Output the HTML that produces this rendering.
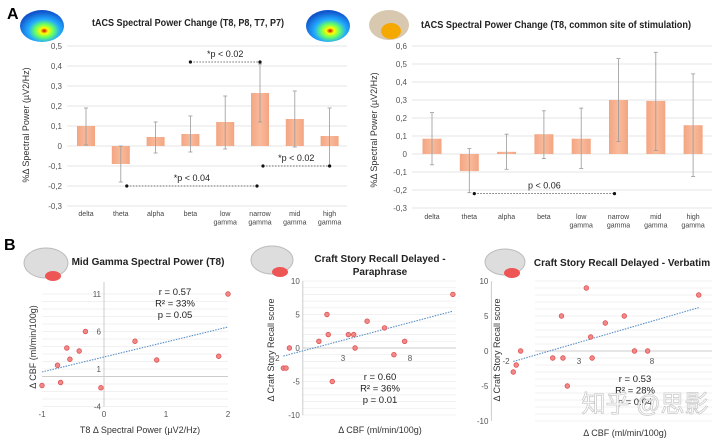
<!DOCTYPE html>
<html><head><meta charset="utf-8">
<style>
body{margin:0;background:#fff;font-family:"Liberation Sans",Arial,sans-serif;}
svg text{font-family:"Liberation Sans",Arial,sans-serif;}
</style></head>
<body>
<svg id="fig" width="720" height="441" viewBox="0 0 720 441" xmlns="http://www.w3.org/2000/svg">
<defs>
<radialGradient id="heat" cx="0.55" cy="0.65" r="0.6">
<stop offset="0" stop-color="#c00"/><stop offset="0.15" stop-color="#ff0"/><stop offset="0.35" stop-color="#6f6"/><stop offset="0.6" stop-color="#2af"/><stop offset="1" stop-color="#15c"/>
</radialGradient>
<linearGradient id="barg" x1="0" x2="1"><stop offset="0" stop-color="#f4a582"/><stop offset="0.5" stop-color="#f8bb9c"/><stop offset="1" stop-color="#f4a582"/></linearGradient>
</defs>
<text x="7" y="19" font-size="16" font-weight="bold">A</text>
<text x="4" y="250" font-size="16" font-weight="bold">B</text>
<g><ellipse cx="42" cy="26" rx="22" ry="16" fill="url(#heat)"/></g>
<g><ellipse cx="328" cy="26" rx="22" ry="16" fill="url(#heat)"/></g>
<g><ellipse cx="389" cy="25" rx="20" ry="15" fill="#d9c8b0"/><ellipse cx="391" cy="31" rx="10" ry="8" fill="#f5a800"/></g>
<g><ellipse cx="46" cy="263" rx="22" ry="15" fill="#ddd" stroke="#bbb"/><ellipse cx="53" cy="276" rx="8" ry="5" fill="#e55"/></g>
<g><ellipse cx="272" cy="260" rx="21" ry="14" fill="#ddd" stroke="#bbb"/><ellipse cx="280" cy="272" rx="8" ry="5" fill="#e55"/></g>
<g><ellipse cx="505" cy="262" rx="20" ry="13" fill="#ddd" stroke="#bbb"/><ellipse cx="512" cy="273" rx="8" ry="5" fill="#e55"/></g>
<g id="charts"></g>
<text x="645" y="412" font-size="24" fill="#fff" stroke="#ccc" stroke-width="0.8" text-anchor="middle" font-family="'Noto Sans CJK SC',sans-serif">知乎 @思影</text>
</svg>
<script>
const cats = ["delta","theta","alpha","beta","low|gamma","narrow|gamma","mid|gamma","high|gamma"];
const a1Vals = [0.10,-0.09,0.045,0.06,0.12,0.265,0.135,0.05];
const a1Hi = [0.19,0.0,0.12,0.15,0.25,0.41,0.275,0.19];
const a1Lo = [0.005,-0.18,-0.035,-0.03,-0.015,0.12,-0.005,-0.10];
const a1Ticks = ["0,5","0,4","0,3","0,2","0,1","0","-0,1","-0,2","-0,3"];
const a2Vals = [0.085,-0.095,0.012,0.11,0.085,0.30,0.295,0.16];
const a2Hi = [0.23,0.03,0.11,0.24,0.255,0.53,0.565,0.445];
const a2Lo = [-0.06,-0.215,-0.085,-0.025,-0.08,0.07,0.02,-0.125];
const a2Ticks = ["0,6","0,5","0,4","0,3","0,2","0,1","0","-0,1","-0,2","-0,3"];
const b1X = [2,-0.3,0.5,-0.6,-0.4,-0.55,-0.75,0.85,1.85,-1,-0.7,-0.05];
const b1Y = [11,6,4.7,3.8,3.4,2.3,1.5,2.2,2.7,-1.2,-0.8,-1.5];
const b1Trend = [[-1,0.6],[2,6.6]];
const b2X = [11.2,1.8,4.8,6.1,1.2,1.9,3.4,3.8,3.9,-1.0,7.6,6.8,-1.45,-1.25,2.2];
const b2Y = [8,5,4,3,1,2,2,2,0,0,1,-1,-3,-3,-5];
const b2Trend = [[-1.45,-1.2],[11.2,5.5]];
const b3X = [11.2,3.5,1.8,4.8,6.1,3.8,-1.0,6.8,7.7,1.2,1.9,3.9,-1.3,-1.5,2.2];
const b3Y = [8,9,5,4,5,2,0,0,0,-1,-1,-1,-2,-3,-5];
const b3Trend = [[-1.5,-1.5],[11.2,6.2]];

const NS="http://www.w3.org/2000/svg";
const root=document.getElementById('charts');
function mk(tag,attrs,parent,txt){const e=document.createElementNS(NS,tag);for(const k in attrs)e.setAttribute(k,attrs[k]);if(txt!==undefined)e.textContent=txt;(parent||root).appendChild(e);return e;}

function barChart(o){
  const g=mk('g',{});
  
  
  const y=v=>o.y0+(o.vmax-v)*o.ppu;
  o.ticks.forEach((t,i)=>{const v=o.vmax-i*0.1;const yy=y(v);
    const l=mk('line',{x1:o.gx1,x2:o.gx2,y1:yy,y2:yy,stroke:'#e6e6e6','stroke-width':1},g);
    
    const tx=mk('text',{x:o.gx1-5,y:yy+3,'font-size':8,fill:'#555','text-anchor':'end'},g,t);
    });
  const x=i=>o.cx0+i*o.step;
  o.vals.forEach((v,i)=>{
    const b=mk('rect',{x:x(i)-o.bw/2,y:Math.min(y(v),y(0)),width:o.bw,height:Math.abs(y(v)-y(0)),fill:'url(#barg)'},g);
    
    const e=mk('g',{stroke:'#999','stroke-width':0.8},g);
    
    mk('line',{x1:x(i),x2:x(i),y1:y(o.hi[i]),y2:y(o.lo[i])},e);
    mk('line',{x1:x(i)-2,x2:x(i)+2,y1:y(o.hi[i]),y2:y(o.hi[i])},e);
    mk('line',{x1:x(i)-2,x2:x(i)+2,y1:y(o.lo[i]),y2:y(o.lo[i])},e);
    const parts=cats[i].split('|');
    parts.forEach((p,j)=>{const t=mk('text',{x:x(i),y:o.labY+j*8.5,'font-size':7,fill:'#444','text-anchor':'middle'},g,p);
      });
  });
  o.sig.forEach(s=>{const yy=y(s.v);
    const d=mk('g',{},g);
    mk('line',{x1:x(s.a)+s.da,x2:x(s.b)+s.db,y1:yy,y2:yy,stroke:'#444','stroke-width':0.8,'stroke-dasharray':'1.5,1.5'},d);
    mk('circle',{cx:x(s.a)+s.da,cy:yy,r:1.6,fill:'#111'},d);mk('circle',{cx:x(s.b)+s.db,cy:yy,r:1.6,fill:'#111'},d);
    mk('text',{x:(x(s.a)+s.da+x(s.b)+s.db)/2,y:yy-5,'font-size':9,fill:'#222','text-anchor':'middle'},d,s.t);});
  const tt=mk('text',{x:o.tx,y:o.ty,'font-size':10.5,'font-weight':'bold',fill:'#222','text-anchor':o.ta,textLength:o.tl,lengthAdjust:'spacingAndGlyphs'},g,o.title);
  
  const yt=mk('text',{x:0,y:0,'font-size':9,fill:'#333','text-anchor':'middle',transform:`translate(${o.ytx},${o.yty}) rotate(-90)`},g,'%Δ Spectral Power (µV2/Hz)');
  
}

barChart({name:'bar-chart-all-electrodes',vals:a1Vals,hi:a1Hi,lo:a1Lo,ticks:a1Ticks,vmax:0.5,y0:46,ppu:200,gx1:67,gx2:347,cx0:86,step:34.8,bw:18,labY:216,
  sig:[{a:3,b:5,v:0.42,t:'*p < 0.02',da:0,db:0},{a:5,b:7,v:-0.1,t:'*p < 0.02',da:3,db:0},{a:1,b:5,v:-0.2,t:'*p < 0.04',da:6,db:-3}],
  title:'tACS Spectral Power Change (T8, P8, T7, P7)',tx:92,ty:26,ta:'start',tl:192,ytx:29,yty:125});
barChart({name:'bar-chart-t8',vals:a2Vals,hi:a2Hi,lo:a2Lo,ticks:a2Ticks,vmax:0.6,y0:46,ppu:180,gx1:412,gx2:712,cx0:432,step:37.3,bw:19,labY:219,
  sig:[{a:1,b:5,v:-0.22,t:'p < 0.06',da:5,db:-4}],
  title:'tACS Spectral Power Change (T8, common site of stimulation)',tx:421,ty:28,ta:'start',tl:270,ytx:377,yty:130});

function scatter(o){
  const g=mk('g',{});
  
  
  const X=v=>o.xa+(v-o.xv)*o.xs, Y=v=>o.ya+(o.yv-v)*o.ys;
  for(let v=o.ymin;v<=o.ymax;v+=o.gstep){const l=mk('line',{x1:o.gx1,x2:o.gx2,y1:Y(v),y2:Y(v),stroke:v===0?'#ccc':'#ececec','stroke-width':v===0?1:0.7},g);
    }
  const ax=mk('line',{x1:X(o.axisX),x2:X(o.axisX),y1:Y(o.ymax)-o.axExt,y2:Y(o.ymin),stroke:'#ccc','stroke-width':1},g);
  
  o.yt.forEach(v=>{const t=mk('text',{x:X(o.axisX)-3,y:Y(v)+3,'font-size':8,fill:'#555','text-anchor':'end'},g,String(v));
    });
  o.xt.forEach(v=>{const t=mk('text',{x:X(v)+(o.xtdx||0),y:o.xtY,'font-size':8,fill:'#555','text-anchor':'middle'},g,String(v));
    });
  const tr=mk('line',{x1:X(o.trend[0][0]),y1:Y(o.trend[0][1]),x2:X(o.trend[1][0]),y2:Y(o.trend[1][1]),stroke:'#5b8fc7','stroke-width':1.1,'stroke-dasharray':'1.5,1.2'},g);
  
  o.px.forEach((v,i)=>{const c=mk('circle',{cx:X(v),cy:Y(o.py[i]),r:2.3,fill:'#f08a8a',stroke:'#e05050','stroke-width':0.8},g);
    });
  o.stats.forEach((s,i)=>{const t=mk('text',{x:o.sx,y:o.sy+i*11.5,'font-size':9.5,fill:'#222','text-anchor':'middle'},g,s);
    });
  o.title.forEach((s,i)=>{const t=mk('text',{x:o.tx,y:o.ty+i*13,'font-size':10,'font-weight':'bold',fill:'#222','text-anchor':'middle'},g,s);
    });
  const yt=mk('text',{x:0,y:0,'font-size':9,fill:'#333','text-anchor':'middle',transform:`translate(${o.ytx},${o.yty}) rotate(-90)`},g,o.ytitle);
  
  const xt=mk('text',{x:o.xtx,y:o.xty,'font-size':9,fill:'#333','text-anchor':'middle'},g,o.xtitle);
  
}

scatter({name:'scatter-mid-gamma',px:b1X,py:b1Y,trend:b1Trend,xa:104,xv:0,xs:62,ya:369,yv:1,ys:7.5,ymin:-4,ymax:11,gstep:1,gx1:42,gx2:228,axisX:0,axExt:12,
  yt:[11,6,1,-4],xt:[-1,0,1,2],xtY:417,stats:['r = 0.57','R² = 33%','p = 0.05'],sx:175,sy:295,
  title:['Mid Gamma Spectral Power (T8)'],tx:148,ty:265,ytx:36,yty:347,ytitle:'Δ CBF (ml/min/100g)',xtx:140,xty:433,xtitle:'T8 Δ Spectral Power (µV2/Hz)'});
scatter({name:'scatter-paraphrase',px:b2X,py:b2Y,trend:b2Trend,xa:343,xv:3,xs:13.4,ya:348,yv:0,ys:6.7,ymin:-10,ymax:10,gstep:1,gx1:302,gx2:456,axisX:0,axExt:0,
  yt:[10,5,0,-5,-10],xt:[-2,3,8],xtdx:0,xtY:361,stats:['r = 0.60','R² = 36%','p = 0.01'],sx:380,sy:380,
  title:['Craft Story Recall Delayed -','Paraphrase'],tx:380,ty:262,ytx:274,yty:350,ytitle:'Δ Craft Story Recall score',xtx:380,xty:433,xtitle:'Δ CBF (ml/min/100g)'});
scatter({name:'scatter-verbatim',px:b3X,py:b3Y,trend:b3Trend,xa:579,xv:3,xs:14.6,ya:351,yv:0,ys:7,ymin:-10,ymax:10,gstep:1,gx1:535,gx2:712,axisX:-3,axExt:0,
  yt:[10,5,0,-5,-10],xt:[-2,3,8],xtY:364,stats:['r = 0.53','R² = 28%','p = 0.04'],sx:635,sy:382,
  title:['Craft Story Recall Delayed - Verbatim'],tx:622,ty:266,ytx:500,yty:350,ytitle:'Δ Craft Story Recall score',xtx:625,xty:436,xtitle:'Δ CBF (ml/min/100g)'});
</script>
</body></html>
